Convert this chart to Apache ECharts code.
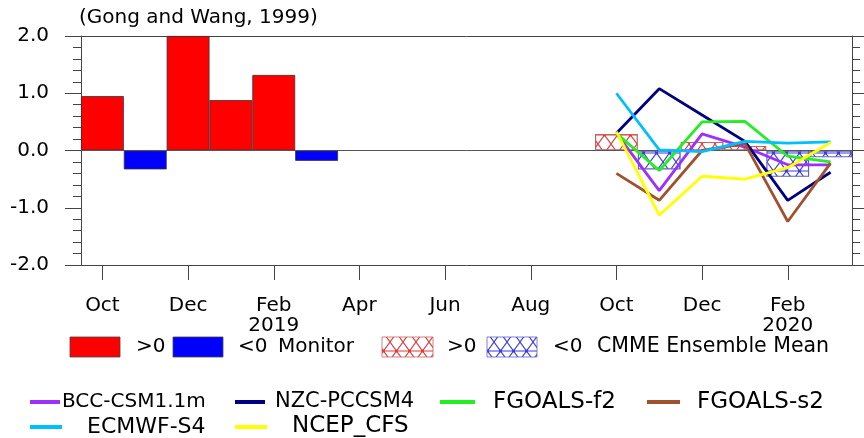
<!DOCTYPE html>
<html>
<head>
<meta charset="utf-8">
<script src="https://cdn.jsdelivr.net/npm/echarts@6/dist/echarts.min.js"></script>
<style>html,body{margin:0;padding:0;background:#fff;}#c{width:864px;height:438px;}</style>
</head>
<body>
<div id="c"></div>
<script>
// ---- data ----
const categories = ['2018-10','2018-11','2018-12','2019-01','2019-02','2019-03','2019-04','2019-05','2019-06','2019-07','2019-08','2019-09','2019-10','2019-11','2019-12','2020-01','2020-02','2020-03'];
const tickLabels = ['Oct','Dec','Feb\n2019','Apr','Jun','Aug','Oct','Dec','Feb\n2020'];
const yTicks = [-2, -1, 0, 1, 2];
const monitor = [0.95, -0.33, 2.0, 0.88, 1.32, -0.18];           // Oct 2018 - Mar 2019
const ensembleMean = [0.29, -0.33, 0.15, 0.08, -0.46, -0.12];     // Oct 2019 - Mar 2020
const bcc    = [0.30, -0.70, 0.29, 0.06, -0.25, -0.25];
const nzc    = [0.30, 1.08, 0.62, 0.16, -0.87, -0.38];
const fgf2   = [0.30, -0.35, 0.50, 0.51, -0.10, -0.20];
const fgs2   = [-0.40, -0.87, 0.00, 0.12, -1.24, -0.22];
const ecmwf  = [1.00, 0.01, -0.02, 0.16, 0.13, 0.15];
const ncep   = [0.33, -1.13, -0.45, -0.50, -0.30, 0.14];
const modelNames = ['BCC-CSM1.1m','NZC-PCCSM4','FGOALS-f2','FGOALS-s2','ECMWF-S4','NCEP_CFS'];
const modelColors = ['#9b30ff','#000080','#22ee22','#a0522d','#00bfff','#ffff00'];
const modelData = [bcc, nzc, fgf2, fgs2, ecmwf, ncep];

const FONT = 'DejaVu Sans';
const monitorStart = 0, fcStart = 12;

function pad(arr, start) {
  const out = new Array(categories.length).fill(null);
  arr.forEach((v, i) => { out[start + i] = v; });
  return out;
}
function hatch(color) {
  const w = 13, h = 18;
  const cv = document.createElement('canvas');
  cv.width = w; cv.height = h;
  const g = cv.getContext('2d');
  g.strokeStyle = color; g.lineWidth = 1.1;
  g.beginPath();
  g.moveTo(0, 0); g.lineTo(w, h);
  g.moveTo(w, 0); g.lineTo(0, h);
  g.moveTo(0, h / 2); g.lineTo(w, h / 2);
  g.stroke();
  g.fillStyle = color;
  g.beginPath(); g.arc(w / 2, h / 2, 1.4, 0, Math.PI * 2); g.fill();
  return { image: cv, repeat: 'repeat' };
}
const redHatch = hatch('#dd3b3b');
const blueHatch = hatch('#3b3bdd');

const monitorData = pad(monitor, monitorStart).map(v => v === null ? null : {
  value: v, itemStyle: { color: v >= 0 ? '#ff0000' : '#0000ff' }
});
const ensData = pad(ensembleMean, fcStart).map(v => v === null ? null : {
  value: v, itemStyle: { color: v >= 0 ? redHatch : blueHatch, borderColor: v >= 0 ? '#c86060' : '#6060c8', borderWidth: 1.2 }
});

const axisColor = '#444';
const series = [
  {
    type: 'bar', xAxisIndex: 0, yAxisIndex: 0, data: monitorData,
    barWidth: '100%', barGap: '-100%',
    itemStyle: { borderColor: '#333', borderWidth: 0.8 },
    markLine: {
      silent: true, symbol: 'none', label: { show: false },
      lineStyle: { color: '#555', width: 1, type: 'solid' },
      data: [{ yAxis: 0 }]
    },
    z: 2
  },
  {
    type: 'bar', xAxisIndex: 0, yAxisIndex: 0, data: ensData,
    barWidth: '100%', barGap: '-100%', z: 2
  }
];
modelData.forEach((arr, k) => {
  series.push({
    type: 'line', name: modelNames[k], xAxisIndex: 0, yAxisIndex: 0,
    data: pad(arr, fcStart), symbol: 'none', smooth: false,
    lineStyle: { color: modelColors[k], width: 2.8 }, z: 5
  });
});

// legend graphics
const g = [];
function rect(x, y, w, h, fill, stroke) {
  g.push({ type: 'rect', shape: { x, y, width: w, height: h }, style: { fill, stroke, lineWidth: 0.8 } });
}
function txt(x, y, t, size) {
  g.push({ type: 'text', x, y, style: { text: t, font: size + 'px "' + FONT + '"', fill: '#000', verticalAlign: 'middle', align: 'left' } });
}
function seg(x1, x2, y, color) {
  g.push({ type: 'line', shape: { x1, y1: y, x2, y2: y }, style: { stroke: color, lineWidth: 4 } });
}
rect(70, 337, 50, 20, '#ff0000', '#444');
txt(136, 347, '>0', 20);
rect(173, 337, 50, 20, '#0000ff', '#444');
txt(238, 347, '<0', 20);
txt(278, 347, 'Monitor', 20);
rect(382, 337, 51, 20, redHatch, '#c86060');
txt(447, 347, '>0', 20);
rect(487, 337, 50, 20, blueHatch, '#6060c8');
txt(553, 347, '<0', 20);
txt(597, 347, 'CMME Ensemble Mean', 20.5);

seg(30, 60, 402, modelColors[0]); txt(62, 402, modelNames[0], 20);
seg(235, 265, 402, modelColors[1]); txt(275, 402, modelNames[1], 21);
seg(440, 475, 402, modelColors[2]); txt(493, 402, modelNames[2], 23);
seg(647, 680, 402, modelColors[3]); txt(697, 402, modelNames[3], 23);
seg(30, 62, 427, modelColors[4]); txt(87, 427, modelNames[4], 22);
seg(235, 267, 427, modelColors[5]); txt(292, 426, modelNames[5], 23);

const yAxisCommon = {
  type: 'value', min: yTicks[0], max: yTicks[yTicks.length - 1], interval: 1,
  axisLine: { show: true, lineStyle: { color: axisColor, width: 1 } },
  axisTick: { show: true, inside: false, length: 16, lineStyle: { color: axisColor } },
  minorTick: { show: true, splitNumber: 5, length: 8, lineStyle: { color: axisColor } },
  splitLine: { show: false }, minorSplitLine: { show: false }
};

const option = {
  animation: false,
  backgroundColor: '#fff',
  title: {
    text: '(Gong and Wang, 1999)', left: 79, top: 8, padding: 0,
    textStyle: { fontFamily: FONT, fontSize: 20, fontWeight: 'normal', color: '#000' }
  },
  grid: { left: 81, right: 12, top: 36, bottom: 173, containLabel: false },
  xAxis: [
    {
      type: 'category', data: categories, position: 'bottom', boundaryGap: true,
      axisLine: { show: true, onZero: false, lineStyle: { color: axisColor, width: 1 } },
      axisTick: { show: true, alignWithLabel: true, interval: 1, length: 15, inside: false, lineStyle: { color: axisColor } },
      axisLabel: {
        interval: 1, margin: 31, fontFamily: FONT, fontSize: 20, lineHeight: 20, color: '#000',
        formatter: (v, i) => (i % 2 === 0 ? tickLabels[i / 2] : '')
      },
      splitLine: { show: false }
    },
    {
      type: 'category', data: categories, position: 'top', boundaryGap: true,
      axisLine: { show: true, onZero: false, lineStyle: { color: axisColor, width: 1 } },
      axisTick: { show: false }, axisLabel: { show: false }, splitLine: { show: false }
    }
  ],
  yAxis: [
    Object.assign({}, yAxisCommon, {
      position: 'left',
      axisLabel: { show: true, margin: 32, fontFamily: FONT, fontSize: 20, color: '#000', formatter: v => v.toFixed(1) }
    }),
    Object.assign({}, yAxisCommon, { position: 'right', axisLabel: { show: false } })
  ],
  graphic: g,
  series: series
};
const chart = echarts.init(document.getElementById('c'), null, { renderer: 'canvas' });
chart.setOption(option);
</script>
</body>
</html>
